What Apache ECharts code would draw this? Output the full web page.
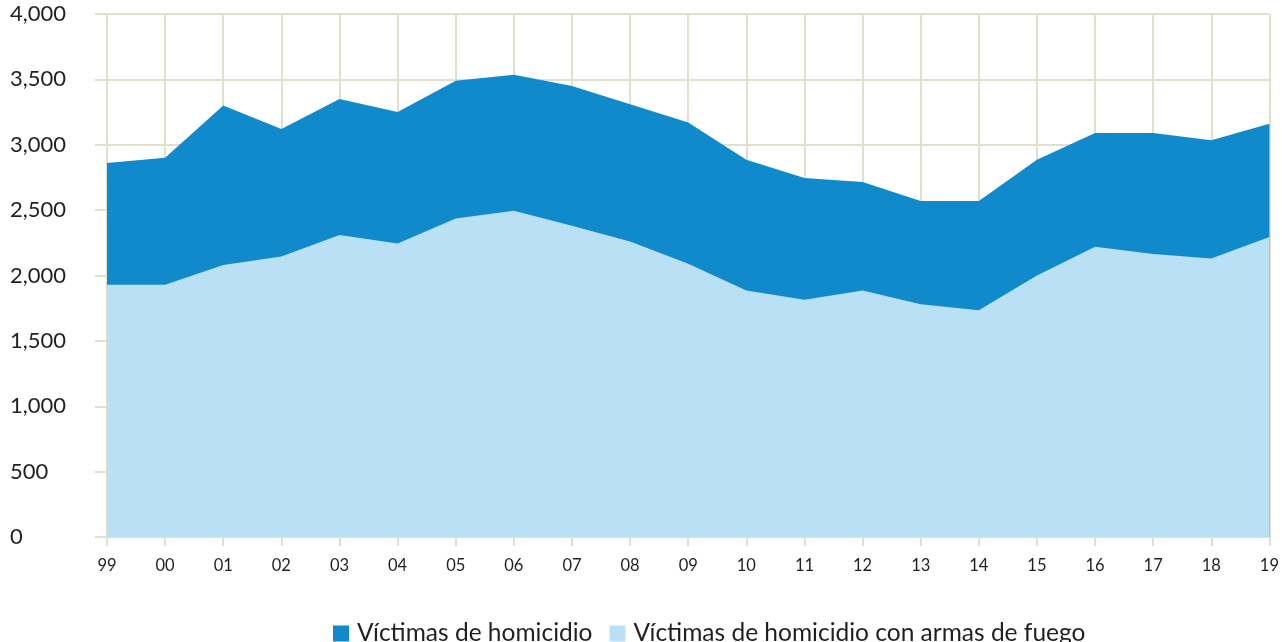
<!DOCTYPE html>
<html>
<head>
<meta charset="utf-8">
<script src="https://cdn.jsdelivr.net/npm/echarts@6/dist/echarts.min.js"></script>
<style>
    html, body {margin: 0; padding: 0; background: #fff;}
    #main {width: 1282px; height: 642px;}
</style>
</head>
<body>
<div id="main"></div>
<script>
// años (eje x)
var years = ['99', '00', '01', '02', '03', '04', '05', '06', '07', '08', '09',
    '10', '11', '12', '13', '14', '15', '16', '17', '18', '19'];
// víctimas de homicidio (total)
var homicidios = [2860, 2900, 3300, 3120, 3350, 3250, 3490, 3535, 3450, 3310, 3170,
    2885, 2745, 2715, 2570, 2570, 2885, 3090, 3090, 3035, 3160];
// víctimas de homicidio con armas de fuego
var armasFuego = [1930, 1930, 2080, 2145, 2310, 2245, 2435, 2495, 2380, 2260, 2090,
    1885, 1815, 1885, 1780, 1735, 2000, 2220, 2165, 2130, 2295];

var gridColor = '#e2dfcc';
var textColor = '#231f20';
var fontName = 'Lato';

var myChart = echarts.init(document.getElementById('main'));
myChart.setOption({
    animation: false,
    textStyle: {fontFamily: fontName},
    grid: {left: 107, right: 12, top: 14, bottom: 105, containLabel: false},
    legend: {
        top: 616,
        left: 328,
        icon: 'rect',
        itemWidth: 16,
        itemHeight: 16,
        itemGap: 17,
        textStyle: {fontSize: 24.5, color: textColor, fontFamily: fontName, padding: [0, 0, 0, 3]}
    },
    xAxis: {
        type: 'category',
        data: years,
        boundaryGap: false,
        axisLine: {lineStyle: {color: gridColor, width: 2}},
        axisTick: {show: true, length: 9, lineStyle: {color: gridColor, width: 2}},
        axisLabel: {color: textColor, fontSize: 16.5, margin: 20, fontFamily: fontName},
        splitLine: {show: true, lineStyle: {color: gridColor, width: 2}}
    },
    yAxis: {
        type: 'value',
        min: 0,
        max: 4000,
        interval: 500,
        axisLine: {show: false},
        axisTick: {show: true, length: 12, lineStyle: {color: gridColor, width: 2}},
        axisLabel: {
            color: textColor, fontSize: 22, align: 'left', margin: 97, fontFamily: fontName,
            padding: [6, 0, 0, 0],
            formatter: function (v) { return v.toLocaleString('en-US'); }
        },
        splitLine: {show: true, lineStyle: {color: gridColor, width: 2}}
    },
    series: [
        {
            name: 'Víctimas de homicidio',
            type: 'line',
            data: homicidios,
            symbol: 'none',
            lineStyle: {width: 0},
            itemStyle: {color: '#118acb'},
            areaStyle: {color: '#118acb', opacity: 1}
        },
        {
            name: 'Víctimas de homicidio con armas de fuego',
            type: 'line',
            data: armasFuego,
            symbol: 'none',
            lineStyle: {width: 0},
            itemStyle: {color: '#bae0f6'},
            areaStyle: {color: '#bae0f6', opacity: 1}
        }
    ]
});
</script>
</body>
</html>
